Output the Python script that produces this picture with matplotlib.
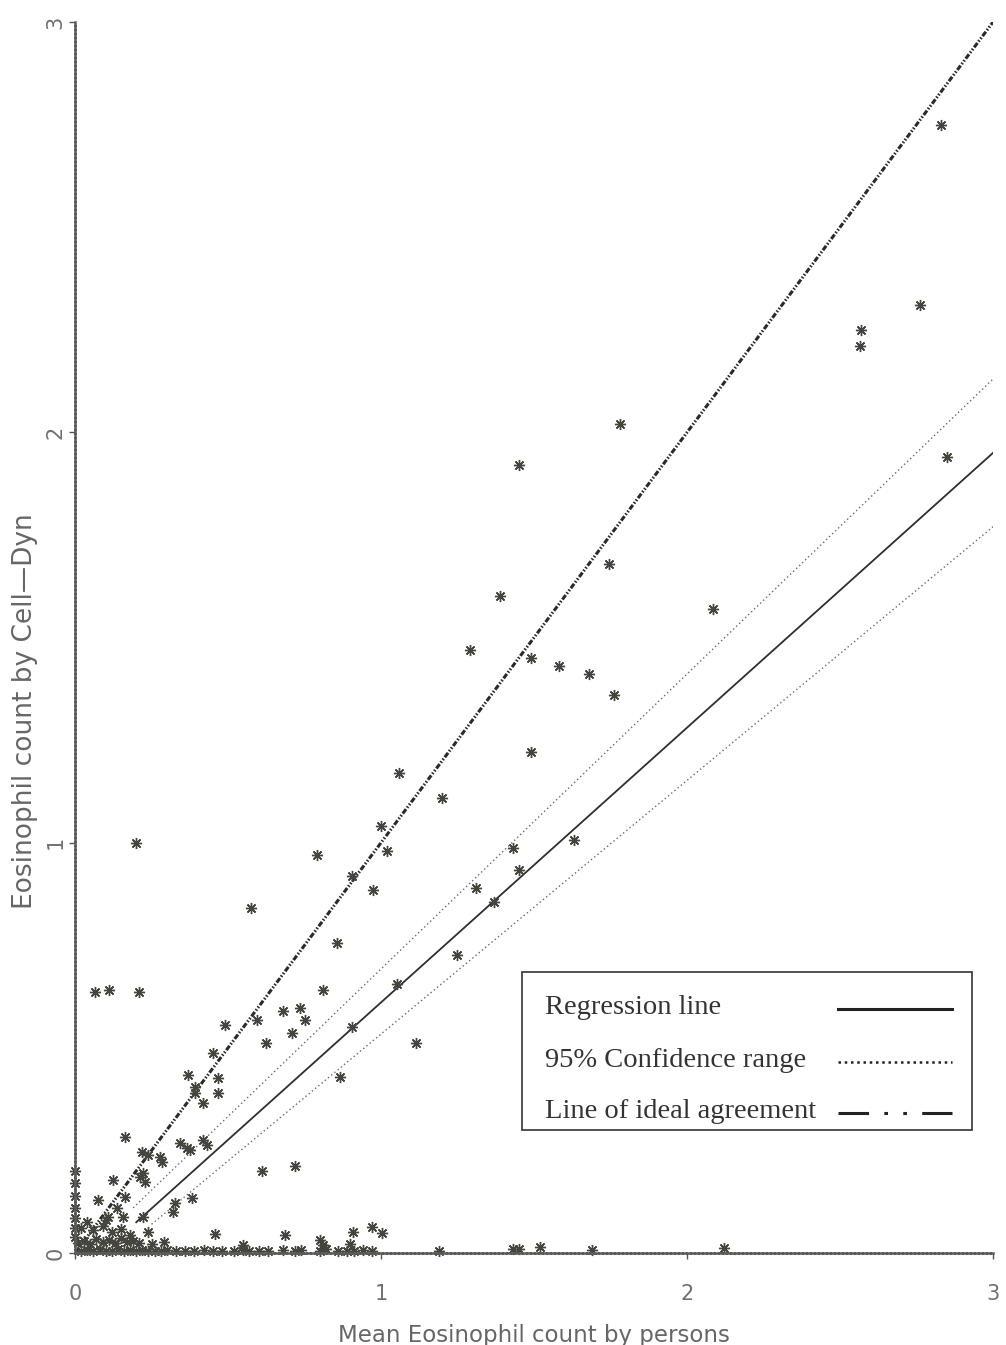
import numpy as np
import matplotlib.pyplot as plt
from matplotlib.patches import Rectangle
from matplotlib.lines import Line2D

# mean count by persons (x) vs Cell-Dyn count (y)
scatter_x = [
    2.83, 2.76, 2.57, 2.565, 2.85, 1.78, 1.45, 1.745, 1.39, 2.085,
    1.49, 1.29, 1.58, 1.68, 1.76, 1.49, 1.06, 1.20, 1.00, 1.02,
    0.975, 0.905, 1.31, 1.37, 1.43, 1.45, 1.63, 0.79, 0.575, 0.20,
    0.856, 0.81, 0.065, 0.11, 0.21, 0.49, 0.595, 0.68, 0.735, 0.752,
    0.71, 0.625, 0.905, 1.052, 1.248, 1.114, 0.866, 0.451, 0.369, 0.467,
    0.392, 0.163, 0.219, 0.24, 0.222, 0.278, 0.285, 0.343, 0.366, 0.376,
    0.418, 0.431, 0.392, 0.418, 0.467, 0.124, 0.075, 0.212, 0.229, 0.163,
    0.137, 0.108, 0.157, 0.222, 0.327, 0.320, 0.382, 0.239, 0.457, 0.611,
    0.72, 0.686, 0.908, 0.97, 1.003, 0.80,
]
scatter_y = [
    2.75, 2.31, 2.25, 2.21, 1.94, 2.02, 1.92, 1.68, 1.60, 1.57,
    1.45, 1.47, 1.43, 1.41, 1.36, 1.22, 1.17, 1.11, 1.04, 0.98,
    0.885, 0.92, 0.89, 0.856, 0.987, 0.934, 1.007, 0.97, 0.84, 1.00,
    0.755, 0.64, 0.635, 0.64, 0.635, 0.555, 0.568, 0.59, 0.596, 0.567,
    0.536, 0.512, 0.551, 0.656, 0.726, 0.512, 0.429, 0.487, 0.434, 0.427,
    0.405, 0.283, 0.246, 0.24, 0.195, 0.234, 0.222, 0.268, 0.256, 0.251,
    0.275, 0.263, 0.39, 0.366, 0.39, 0.178, 0.129, 0.185, 0.173, 0.137,
    0.110, 0.088, 0.088, 0.088, 0.122, 0.100, 0.134, 0.051, 0.046, 0.20,
    0.213, 0.044, 0.05, 0.063, 0.049, 0.031,
]

# readings sitting on the y axis
axis_y = [0.20, 0.17, 0.14, 0.11, 0.085, 0.06, 0.04]

# near-zero Cell-Dyn counts
low_x = [
    0.02, 0.04, 0.06, 0.08, 0.10, 0.12, 0.14, 0.16, 0.18, 0.20,
    0.22, 0.24, 0.26, 0.28, 0.30, 0.33, 0.36, 0.39, 0.42, 0.45,
    0.48, 0.52, 0.55, 0.57, 0.60, 0.63, 0.68, 0.72, 0.74, 0.80,
    0.82, 0.86, 0.89, 0.91, 0.94, 0.97, 1.19, 1.43, 1.45, 1.52,
    1.69, 2.12,
    0.01, 0.03, 0.05, 0.07, 0.09, 0.11, 0.13, 0.15, 0.17, 0.19,
    0.21, 0.25, 0.29, 0.55, 0.81, 0.90,
    0.02, 0.04, 0.06, 0.09, 0.12, 0.15, 0.18, 0.10,
]
low_y = [
    0.005, 0.008, 0.004, 0.010, 0.006, 0.004, 0.009, 0.005, 0.007, 0.004,
    0.008, 0.005, 0.006, 0.004, 0.008, 0.005, 0.006, 0.004, 0.007, 0.005,
    0.006, 0.004, 0.008, 0.005, 0.006, 0.004, 0.007, 0.005, 0.008, 0.004,
    0.010, 0.005, 0.006, 0.004, 0.008, 0.005, 0.005, 0.010, 0.010, 0.015,
    0.007, 0.012,
    0.025, 0.030, 0.022, 0.035, 0.028, 0.032, 0.024, 0.036, 0.027, 0.030,
    0.025, 0.022, 0.028, 0.020, 0.020, 0.022,
    0.060, 0.075, 0.055, 0.065, 0.050, 0.058, 0.045, 0.080,
]

# fitted lines (start and end points)
reg_x = [0.20, 3.0]
reg_y = [0.075, 1.95]
ci_upper_x = [0.19, 3.0]
ci_upper_y = [0.11, 2.13]
ci_lower_x = [0.25, 3.0]
ci_lower_y = [0.07, 1.77]
ideal_x = [0.0, 3.0]
ideal_y = [0.0, 3.0]

ticks = [0, 1, 2, 3]

fig = plt.figure(figsize=(10.06, 13.45), dpi=100)
ax = fig.add_axes([0.0746, 0.0684, 0.9125, 0.9152])

ink = '#45453d'
star = (8, 2, 0)
mark = dict(linestyle='none', marker=star, ms=8, mew=1.0, color=ink,
            clip_on=False)

ax.plot(ideal_x, ideal_y, color='#2a2a2a', lw=2.2,
        dashes=(1.8, 0.6, 0.5, 0.6, 0.5, 0.6))
ax.plot(ci_upper_x, ci_upper_y, color='#6a6a6a', lw=1.0, linestyle=(0, (1, 2)))
ax.plot(ci_lower_x, ci_lower_y, color='#6a6a6a', lw=1.0, linestyle=(0, (1, 2)))
ax.plot(reg_x, reg_y, color='#2e2e2e', lw=1.3)

ax.plot(scatter_x, scatter_y, **mark)
ax.plot(np.zeros(len(axis_y)), axis_y, **mark)
ax.plot(low_x, low_y, **mark)

ax.set_xlim(0, 3)
ax.set_ylim(0, 3)
for side in ('top', 'right'):
    ax.spines[side].set_visible(False)
for side in ('left', 'bottom'):
    ax.spines[side].set_color('#5a5a5a')
    ax.spines[side].set_linewidth(1.8)
    ax.spines[side].set_linestyle((0, (1.2, 0.4)))

ax.set_xticks(ticks)
ax.set_yticks(ticks)
ax.set_xticklabels([str(t) for t in ticks])
ax.set_yticklabels([str(t) for t in ticks], rotation=90, va='center')
ax.tick_params(axis='x', length=4, width=1, color='#555555', pad=18,
               labelsize=15, labelcolor='#707070')
ax.tick_params(axis='y', length=4, width=1, color='#555555', pad=3,
               labelsize=15, labelcolor='#707070')

ax.set_xlabel('Mean Eosinophil count by persons', fontsize=16.5,
              color='#666666')
ax.xaxis.set_label_coords(0.5, -0.058)
ax.set_ylabel('Eosinophil count by Cell\u2014Dyn', fontsize=19,
              color='#666666')
ax.yaxis.set_label_coords(-0.040, 0.44)

# key box drawn in axes fraction
box_l, box_r, box_b, box_t = 0.487, 0.977, 0.100, 0.228
ax.add_patch(Rectangle((box_l, box_b), box_r - box_l, box_t - box_b,
                       transform=ax.transAxes, facecolor='white',
                       edgecolor='#333333', lw=1.2, zorder=5))
key_rows = [
    ('Regression line', 0.194, dict(linestyle='-', lw=2.2)),
    ('95% Confidence range', 0.151, dict(linestyle=(0, (1, 1.5)), lw=1.8)),
    ('Line of ideal agreement', 0.110,
     dict(dashes=(10, 5, 1.2, 5, 1.2, 5), lw=2.2)),
]
for label, y, style in key_rows:
    ax.text(0.512, y, label, transform=ax.transAxes, fontsize=20.5,
            family='Liberation Serif', color='#333333', va='baseline',
            zorder=6)
    ax.add_line(Line2D([0.831, 0.955], [y + 0.004, y + 0.004],
                       transform=ax.transAxes, color='#222222', zorder=6,
                       **style))

fig.savefig('out.png', dpi=100)
